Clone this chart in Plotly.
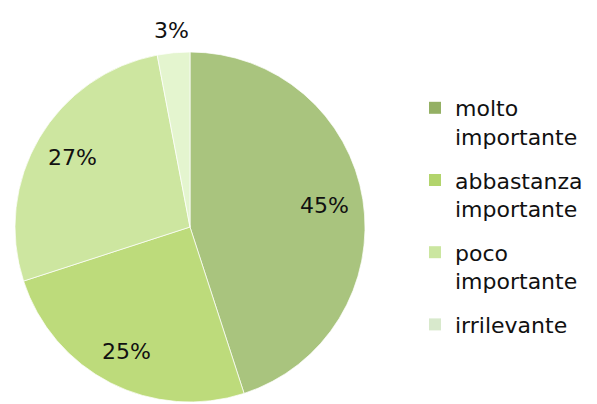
import math
import plotly.graph_objects as go

categories = ["molto<br>importante", "abbastanza<br>importante", "poco<br>importante", "irrilevante"]
values = [45, 25, 27, 3]
text_labels = ["45%", "25%", "27%", "3%"]
slice_colors = ["#a9c47e", "#bddb7b", "#cde6a0", "#e4f5cf"]
legend_colors = ["#94b064", "#b2d46c", "#cbe6a0", "#d8e9cc"]
label_radius = [0.78, 0.80, 0.78, 1.13]  # label distance as fraction of pie radius

W, H = 597, 404
# page body has an 8px margin, so figure coordinates are offset by 8px
cx, cy, r = 182, 219, 175

fig = go.Figure()
fig.add_trace(go.Pie(
    labels=categories,
    values=values,
    textinfo="none",
    sort=False,
    direction="clockwise",
    rotation=0,
    marker=dict(colors=slice_colors, line=dict(color="rgba(255,255,255,0.7)", width=1)),
    showlegend=False,
    domain=dict(x=[(cx - r) / W, (cx + r) / W], y=[(H - cy - r) / H, (H - cy + r) / H]),
    hoverinfo="label+percent",
))

# percentage labels placed along each slice's bisector (computed from the values)
total = sum(values)
acc = 0
for v, t, lr in zip(values, text_labels, label_radius):
    mid = (acc + v / 2) / total * 2 * math.pi
    acc += v
    px = cx + lr * r * math.sin(mid)
    py = cy - lr * r * math.cos(mid)
    fig.add_annotation(
        x=px / W, y=1 - py / H, xref="paper", yref="paper",
        text=t, showarrow=False, xanchor="center", yanchor="middle",
        font=dict(family="DejaVu Sans", size=22, color="#111111"),
    )

for i, (lab, col) in enumerate(zip(categories, legend_colors)):
    fig.add_trace(go.Scatter(
        x=[None], y=[None], mode="markers", name=lab,
        marker=dict(symbol="square", size=12, color=col),
        legendgroup=f"g{i}", showlegend=True,
    ))

fig.update_layout(
    width=W, height=H,
    margin=dict(l=0, r=0, t=0, b=0),
    paper_bgcolor="white", plot_bgcolor="white",
    xaxis=dict(visible=False), yaxis=dict(visible=False),
    legend=dict(
        x=407 / W, xanchor="left", y=1 - 79 / H, yanchor="top",
        font=dict(family="DejaVu Sans", size=22, color="#111111"),
        valign="top", tracegroupgap=12, bgcolor="rgba(0,0,0,0)",
    ),
)

fig.write_html("out.html")
